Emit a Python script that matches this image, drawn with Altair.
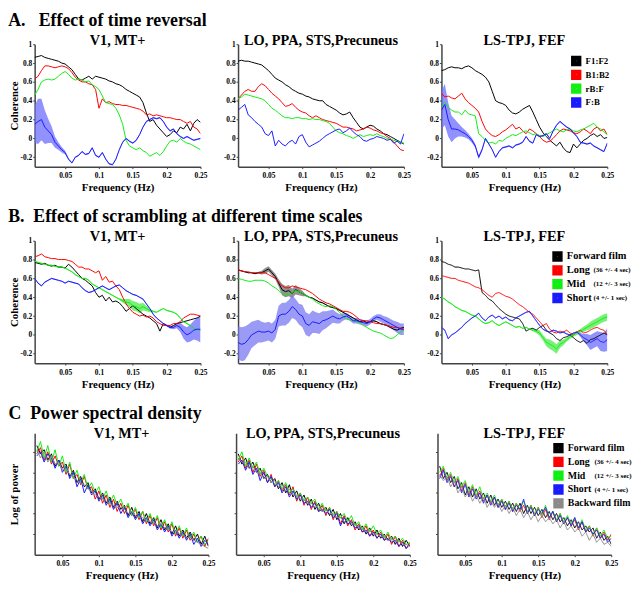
import altair as alt
import pandas as pd

SERIF = "Liberation Serif"

# ---------------- shared categories / text ----------------
row_titles = ["A.\u00a0\u00a0\u00a0Effect of time reversal",
              "B.\u00a0\u00a0Effect of scrambling at different time scales",
              "C\u00a0\u00a0Power spectral density"]
region_titles = ["V1, MT+", "LO, PPA, STS,Precuneus", "LS-TPJ, FEF"]
reversal_names = ["F1:F2", "B1:B2", "rB:F", "F:B"]
scramble_names = ["Forward film", "Long", "Mid", "Short"]
scramble_suffix = ["\u00a0", "(36 +/- 4 sec)", "(12 +/- 3 sec)", "(4 +/- 1 sec)"]
psd_names = ["Forward film", "Long", "Mid", "Short", "Backward film"]
psd_suffix = ["\u00a0", "(36 +/- 4 sec)", "(12 +/- 3 sec)", "(4 +/- 1 sec)", "\u00a0"]
line_colors = ["#000000", "#ff0000", "#11ee11", "#1a1aff"]
psd_colors = ["#000000", "#ff0000", "#11ee11", "#1a1aff", "#8a8a8a"]
x_ticks = [0.05, 0.1, 0.15, 0.2, 0.25]
coh_ticks = [-0.2, 0, 0.2, 0.4, 0.6, 0.8, 1]
psd_ticks = [1, 2, 3, 4, 5]

# ---------------- frequency grids ----------------
freq_ab = [0.005, 0.01, 0.015, 0.02, 0.025, 0.03, 0.035, 0.04, 0.045, 0.05,
           0.055, 0.06, 0.065, 0.07, 0.075, 0.08, 0.085, 0.09, 0.095, 0.1,
           0.105, 0.11, 0.115, 0.12, 0.125, 0.13, 0.135, 0.14, 0.145, 0.15,
           0.155, 0.16, 0.165, 0.17, 0.175, 0.18, 0.185, 0.19, 0.195, 0.2,
           0.205, 0.21, 0.215, 0.22, 0.225, 0.23, 0.235, 0.24, 0.245, 0.25]
freq_c = [0.015, 0.02, 0.025, 0.03, 0.035, 0.04, 0.045, 0.05,
          0.055, 0.06, 0.065, 0.07, 0.075, 0.08, 0.085, 0.09,
          0.095, 0.1, 0.105, 0.11, 0.115, 0.12, 0.125, 0.13,
          0.135, 0.14, 0.145, 0.15, 0.155, 0.16, 0.165, 0.17,
          0.175, 0.18, 0.185, 0.19, 0.195, 0.2, 0.205, 0.21,
          0.215, 0.22, 0.225, 0.23, 0.235, 0.24, 0.245, 0.25]

# ---------------- A. time reversal: coherence ----------------
a1_black = [0.86, 0.87, 0.88, 0.86, 0.85, 0.84, 0.83, 0.82, 0.80, 0.79,
            0.76, 0.73, 0.68, 0.63, 0.62, 0.64, 0.66, 0.63, 0.66, 0.65,
            0.64, 0.63, 0.61, 0.60, 0.58, 0.57, 0.55, 0.52, 0.50, 0.48,
            0.46, 0.44, 0.38, 0.27, 0.18, 0.20, 0.14, 0.10, 0.06, 0.02,
            0.04, 0.08, 0.06, 0.12, 0.10, 0.15, 0.08, 0.16, 0.20, 0.17]
a1_red = [0.63, 0.66, 0.72, 0.77, 0.77, 0.76, 0.75, 0.76, 0.77, 0.76,
          0.74, 0.70, 0.65, 0.62, 0.60, 0.60, 0.58, 0.57, 0.52, 0.32,
          0.42, 0.38, 0.39, 0.37, 0.36, 0.36, 0.35, 0.35, 0.34, 0.33,
          0.32, 0.31, 0.29, 0.25, 0.26, 0.24, 0.25, 0.24, 0.23, 0.22,
          0.22, 0.21, 0.20, 0.20, 0.18, 0.16, 0.18, 0.12, 0.10, 0.05]
a1_green = [0.46, 0.52, 0.60, 0.62, 0.63, 0.62, 0.63, 0.66, 0.69, 0.71,
            0.68, 0.64, 0.62, 0.63, 0.62, 0.60, 0.61, 0.57, 0.55, 0.52,
            0.45, 0.38, 0.37, 0.36, 0.32, 0.25, 0.15, -0.02, -0.08, -0.10,
            -0.12, -0.10, -0.13, -0.15, -0.19, -0.17, -0.15, -0.18, -0.14, -0.08,
            -0.03, -0.02, -0.04, 0.00, -0.03, -0.05, -0.06, -0.08, -0.10, -0.12]
a1_blue = [0.15, 0.18, 0.20, 0.12, 0.08, 0.04, -0.04, -0.08, -0.12, -0.15,
           -0.22, -0.26, -0.20, -0.18, -0.14, -0.17, -0.16, -0.10, -0.18, -0.20,
           -0.15, -0.22, -0.27, -0.28, -0.22, -0.12, -0.04, 0.00, -0.03, -0.05,
           -0.02, 0.04, 0.12, 0.18, 0.20, 0.22, 0.21, 0.22, 0.18, 0.12,
           0.08, 0.10, 0.05, 0.02, 0.00, 0.02, 0.00, -0.02, -0.01, 0.00]
a1_blue_sd = [0.20, 0.24, 0.22, 0.18, 0.13, 0.09, 0.06, 0.04, 0.03, 0.02,
              0.01, 0.008, 0.008, 0.008, 0.008, 0.008, 0.008, 0.008, 0.008, 0.008,
              0.008, 0.008, 0.008, 0.008, 0.008, 0.008, 0.008, 0.008, 0.008, 0.008,
              0.008, 0.008, 0.008, 0.008, 0.008, 0.008, 0.008, 0.008, 0.008, 0.008,
              0.008, 0.008, 0.008, 0.008, 0.008, 0.008, 0.008, 0.008, 0.008, 0.008]

a2_black = [0.82, 0.83, 0.82, 0.82, 0.81, 0.80, 0.79, 0.78, 0.75, 0.72,
            0.68, 0.64, 0.62, 0.60, 0.57, 0.55, 0.52, 0.50, 0.48, 0.47,
            0.45, 0.44, 0.42, 0.41, 0.40, 0.40, 0.36, 0.34, 0.32, 0.30,
            0.27, 0.25, 0.26, 0.28, 0.22, 0.17, 0.12, 0.10, 0.12, 0.14,
            0.13, 0.10, 0.08, 0.05, 0.04, 0.02, 0.00, -0.02, -0.04, -0.06]
a2_red = [0.42, 0.46, 0.50, 0.52, 0.50, 0.50, 0.55, 0.58, 0.56, 0.52,
          0.48, 0.45, 0.42, 0.38, 0.34, 0.35, 0.37, 0.33, 0.30, 0.28,
          0.27, 0.24, 0.22, 0.24, 0.22, 0.20, 0.19, 0.18, 0.17, 0.16,
          0.14, 0.12, 0.12, 0.11, 0.10, 0.08, 0.09, 0.10, 0.12, 0.11,
          0.09, 0.08, 0.06, 0.05, 0.02, 0.00, -0.04, -0.08, -0.12, -0.13]
a2_green = [0.42, 0.44, 0.47, 0.46, 0.45, 0.44, 0.43, 0.42, 0.40, 0.36,
            0.32, 0.30, 0.27, 0.24, 0.22, 0.22, 0.21, 0.22, 0.22, 0.21,
            0.21, 0.20, 0.21, 0.20, 0.20, 0.19, 0.18, 0.16, 0.12, 0.08,
            0.06, 0.05, 0.03, 0.02, 0.00, 0.02, 0.04, 0.02, 0.03, 0.04,
            0.03, 0.05, 0.03, 0.02, 0.00, -0.01, -0.02, -0.03, -0.04, -0.05]
a2_blue = [0.30, 0.33, 0.36, 0.25, 0.22, 0.18, 0.15, 0.12, 0.05, 0.03,
           0.08, -0.08, -0.02, -0.06, -0.08, -0.04, -0.02, -0.06, 0.02, 0.04,
           -0.04, -0.09, -0.07, -0.05, -0.03, 0.00, 0.03, 0.05, 0.07, 0.09,
           0.10, 0.06, 0.08, 0.11, 0.07, 0.04, 0.02, -0.02, -0.03, -0.01,
           0.00, 0.02, 0.01, 0.00, -0.02, -0.01, -0.05, -0.03, -0.06, 0.05]

a3_black = [0.72, 0.73, 0.75, 0.76, 0.75, 0.75, 0.74, 0.76, 0.77, 0.75,
            0.72, 0.70, 0.68, 0.65, 0.60, 0.50, 0.40, 0.38, 0.37, 0.35,
            0.30, 0.27, 0.26, 0.28, 0.31, 0.33, 0.35, 0.28, 0.20, 0.12,
            0.06, 0.02, -0.02, -0.05, -0.08, -0.04, -0.10, -0.14, -0.15, -0.06,
            -0.10, -0.06, -0.02, 0.00, 0.03, 0.05, 0.02, 0.04, 0.00, 0.01]
a3_red = [0.48, 0.44, 0.45, 0.43, 0.42, 0.45, 0.48, 0.42, 0.38, 0.35,
          0.32, 0.28, 0.18, 0.10, 0.06, 0.03, 0.02, 0.04, 0.07, 0.09,
          0.12, 0.15, 0.10, 0.12, 0.08, 0.05, 0.10, 0.08, 0.05, 0.02,
          -0.02, -0.04, -0.03, 0.00, 0.04, 0.08, 0.10, 0.09, 0.08, 0.06,
          0.05, 0.07, 0.10, 0.08, 0.05, 0.10, 0.12, 0.08, 0.10, 0.04]
a3_green = [0.33, 0.38, 0.33, 0.30, 0.28, 0.28, 0.25, 0.30, 0.26, 0.25,
            0.24, 0.05, 0.02, -0.02, -0.05, -0.04, -0.06, -0.02, -0.03, 0.00,
            0.02, 0.04, 0.03, 0.05, 0.07, 0.08, 0.06, 0.04, 0.05, 0.03,
            0.02, 0.04, 0.06, 0.08, 0.10, 0.08, 0.07, 0.09, 0.10, 0.08,
            0.07, 0.09, 0.10, 0.12, 0.14, 0.16, 0.12, 0.10, 0.07, 0.04]
a3_blue = [0.30, 0.36, 0.20, 0.10, 0.10, 0.09, 0.07, 0.05, 0.02, -0.02,
           -0.08, -0.20, -0.12, 0.00, -0.06, -0.12, -0.20, -0.14, -0.10, -0.09,
           -0.08, -0.10, -0.07, -0.06, -0.04, 0.02, -0.03, -0.05, 0.04, 0.02,
           0.03, 0.05, 0.00, 0.08, 0.14, 0.18, 0.15, 0.12, 0.10, 0.06,
           0.02, -0.04, -0.05, -0.06, -0.05, -0.08, -0.10, -0.12, -0.14, -0.05]
a3_blue_sd = [0.20, 0.22, 0.18, 0.14, 0.10, 0.07, 0.05, 0.04, 0.03, 0.025,
              0.02, 0.02, 0.015, 0.01, 0.008, 0.008, 0.008, 0.008, 0.008, 0.008,
              0.008, 0.008, 0.008, 0.008, 0.008, 0.008, 0.008, 0.008, 0.008, 0.008,
              0.008, 0.008, 0.008, 0.008, 0.008, 0.008, 0.008, 0.008, 0.008, 0.008,
              0.008, 0.008, 0.008, 0.008, 0.008, 0.008, 0.008, 0.008, 0.008, 0.008]

# ---------------- B. scrambling: coherence ----------------
b1_black = [0.77, 0.76, 0.75, 0.76, 0.74, 0.73, 0.74, 0.72, 0.72, 0.71,
            0.75, 0.72, 0.68, 0.64, 0.60, 0.58, 0.55, 0.52, 0.45, 0.40,
            0.42, 0.36, 0.40, 0.35, 0.36, 0.34, 0.30, 0.25, 0.28, 0.31,
            0.28, 0.25, 0.22, 0.20, 0.18, 0.15, 0.12, 0.04, 0.12, 0.10,
            0.08, 0.10, 0.12, 0.13, 0.14, 0.15, 0.16, 0.17, 0.18, 0.20]
b1_red = [0.83, 0.84, 0.86, 0.83, 0.82, 0.81, 0.81, 0.80, 0.80, 0.80,
          0.79, 0.78, 0.75, 0.72, 0.72, 0.70, 0.70, 0.68, 0.66, 0.68,
          0.58, 0.62, 0.56, 0.57, 0.52, 0.48, 0.40, 0.33, 0.28, 0.24,
          0.22, 0.20, 0.21, 0.19, 0.20, 0.18, 0.14, 0.12, 0.10, 0.10,
          0.10, 0.12, 0.12, 0.14, 0.18, 0.20, 0.22, 0.22, 0.21, 0.20]
b1_green = [0.78, 0.77, 0.76, 0.75, 0.74, 0.74, 0.73, 0.72, 0.72, 0.71,
            0.69, 0.67, 0.64, 0.62, 0.60, 0.60, 0.58, 0.54, 0.52, 0.50,
            0.48, 0.46, 0.44, 0.42, 0.40, 0.38, 0.36, 0.35, 0.34, 0.31,
            0.30, 0.28, 0.30, 0.28, 0.26, 0.25, 0.24, 0.26, 0.28, 0.26,
            0.25, 0.24, 0.22, 0.18, 0.14, 0.12, 0.10, 0.07, 0.06, 0.05]
b1_green_sd = [0.006, 0.006, 0.006, 0.006, 0.006, 0.006, 0.006, 0.006, 0.006, 0.006,
               0.006, 0.006, 0.006, 0.006, 0.006, 0.006, 0.006, 0.006, 0.006, 0.006,
               0.006, 0.006, 0.006, 0.006, 0.006, 0.01, 0.02, 0.03, 0.04, 0.05,
               0.05, 0.05, 0.04, 0.03, 0.02, 0.01, 0.006, 0.006, 0.006, 0.006,
               0.006, 0.006, 0.006, 0.006, 0.006, 0.006, 0.006, 0.006, 0.006, 0.006]
b1_blue = [0.60, 0.55, 0.52, 0.56, 0.58, 0.60, 0.59, 0.58, 0.57, 0.55,
           0.57, 0.56, 0.55, 0.54, 0.50, 0.47, 0.45, 0.46, 0.48, 0.50,
           0.52, 0.50, 0.48, 0.50, 0.52, 0.53, 0.50, 0.47, 0.45, 0.43,
           0.42, 0.40, 0.38, 0.33, 0.28, 0.22, 0.18, 0.15, 0.12, 0.10,
           0.08, 0.08, 0.10, 0.08, 0.03, 0.00, 0.02, 0.05, 0.06, 0.06]
b1_blue_sd = [0.006, 0.006, 0.006, 0.006, 0.006, 0.006, 0.006, 0.006, 0.006, 0.006,
              0.006, 0.006, 0.006, 0.006, 0.006, 0.006, 0.006, 0.006, 0.006, 0.006,
              0.006, 0.006, 0.006, 0.006, 0.006, 0.006, 0.006, 0.006, 0.006, 0.006,
              0.006, 0.006, 0.006, 0.006, 0.006, 0.006, 0.006, 0.006, 0.006, 0.01,
              0.015, 0.02, 0.03, 0.05, 0.07, 0.08, 0.09, 0.10, 0.12, 0.14]

b2_black = [0.69, 0.68, 0.67, 0.66, 0.66, 0.65, 0.66, 0.66, 0.68, 0.70,
            0.66, 0.62, 0.55, 0.48, 0.46, 0.47, 0.44, 0.48, 0.46, 0.44,
            0.42, 0.40, 0.39, 0.37, 0.35, 0.34, 0.32, 0.30, 0.29, 0.28,
            0.26, 0.24, 0.22, 0.20, 0.18, 0.16, 0.14, 0.15, 0.13, 0.14,
            0.15, 0.14, 0.12, 0.11, 0.10, 0.08, 0.06, 0.05, 0.07, 0.08]
b2_black_sd = [0.006, 0.006, 0.006, 0.006, 0.006, 0.006, 0.01, 0.02, 0.03, 0.03,
               0.03, 0.03, 0.04, 0.06, 0.06, 0.06, 0.05, 0.05, 0.04, 0.03,
               0.01, 0.006, 0.006, 0.006, 0.006, 0.006, 0.006, 0.006, 0.006, 0.006,
               0.006, 0.006, 0.006, 0.006, 0.006, 0.006, 0.006, 0.006, 0.006, 0.006,
               0.006, 0.006, 0.006, 0.006, 0.006, 0.006, 0.006, 0.006, 0.006, 0.006]
b2_red = [0.69, 0.68, 0.67, 0.67, 0.66, 0.66, 0.66, 0.66, 0.66, 0.64,
          0.62, 0.60, 0.56, 0.52, 0.50, 0.50, 0.52, 0.51, 0.50, 0.49,
          0.48, 0.46, 0.44, 0.41, 0.38, 0.36, 0.34, 0.33, 0.31, 0.29,
          0.27, 0.25, 0.25, 0.24, 0.22, 0.19, 0.16, 0.15, 0.15, 0.14,
          0.13, 0.12, 0.12, 0.11, 0.10, 0.09, 0.08, 0.08, 0.07, 0.06]
b2_green = [0.60, 0.59, 0.58, 0.57, 0.57, 0.58, 0.58, 0.58, 0.57, 0.55,
            0.52, 0.50, 0.47, 0.44, 0.42, 0.43, 0.45, 0.47, 0.46, 0.44,
            0.42, 0.40, 0.38, 0.35, 0.33, 0.31, 0.30, 0.31, 0.30, 0.27,
            0.24, 0.20, 0.17, 0.16, 0.15, 0.14, 0.13, 0.10, 0.08, 0.06,
            0.04, 0.03, 0.02, 0.00, -0.02, -0.04, -0.03, 0.00, 0.03, 0.05]
b2_blue = [-0.08, -0.10, -0.09, -0.05, 0.00, 0.02, 0.04, 0.03, 0.03, 0.04,
           0.02, 0.06, 0.20, 0.22, 0.22, 0.25, 0.30, 0.27, 0.22, 0.20,
           0.12, 0.10, 0.14, 0.13, 0.12, 0.15, 0.16, 0.18, 0.20, 0.18,
           0.17, 0.19, 0.20, 0.18, 0.15, 0.15, 0.14, 0.13, 0.12, 0.14,
           0.17, 0.19, 0.18, 0.16, 0.14, 0.12, 0.10, 0.08, 0.06, 0.06]
b2_blue_sd = [0.17, 0.18, 0.18, 0.16, 0.14, 0.13, 0.12, 0.11, 0.10, 0.10,
              0.10, 0.10, 0.11, 0.12, 0.12, 0.12, 0.12, 0.11, 0.11, 0.12,
              0.12, 0.12, 0.12, 0.11, 0.11, 0.10, 0.09, 0.08, 0.07, 0.06,
              0.05, 0.04, 0.035, 0.03, 0.03, 0.03, 0.03, 0.03, 0.03, 0.03,
              0.03, 0.03, 0.04, 0.04, 0.05, 0.05, 0.05, 0.06, 0.06, 0.06]

b3_black = [0.78, 0.77, 0.75, 0.74, 0.72, 0.72, 0.71, 0.70, 0.70, 0.69,
            0.68, 0.69, 0.45, 0.42, 0.38, 0.36, 0.32, 0.28, 0.25, 0.22,
            0.20, 0.19, 0.18, 0.17, 0.12, 0.04, 0.06, 0.07, 0.05, 0.08,
            0.10, 0.05, 0.02, 0.00, -0.04, -0.06, -0.03, -0.02, 0.00, -0.03,
            -0.06, -0.08, -0.06, -0.09, -0.05, -0.04, -0.02, 0.00, 0.02, 0.00]
b3_red = [0.63, 0.62, 0.61, 0.60, 0.60, 0.58, 0.57, 0.56, 0.55, 0.53,
          0.51, 0.50, 0.48, 0.45, 0.42, 0.40, 0.44, 0.45, 0.43, 0.41,
          0.40, 0.38, 0.35, 0.32, 0.30, 0.27, 0.24, 0.22, 0.18, 0.14,
          0.10, 0.12, 0.06, 0.03, 0.02, 0.04, 0.03, 0.05, 0.02, 0.00,
          0.03, 0.05, 0.02, 0.03, 0.05, 0.07, 0.08, 0.06, 0.05, 0.00]
b3_green = [0.40, 0.38, 0.35, 0.33, 0.30, 0.28, 0.26, 0.25, 0.23, 0.21,
            0.20, 0.17, 0.14, 0.12, 0.13, 0.15, 0.12, 0.10, 0.12, 0.14,
            0.12, 0.10, 0.08, 0.09, 0.07, 0.08, 0.06, 0.05, 0.04, 0.02,
            -0.03, -0.08, -0.10, -0.12, -0.15, -0.10, -0.08, -0.05, -0.02, 0.00,
            0.02, 0.04, 0.06, 0.08, 0.10, 0.12, 0.14, 0.16, 0.18, 0.19]
b3_green_sd = [0.006, 0.006, 0.006, 0.006, 0.006, 0.006, 0.006, 0.006, 0.006, 0.006,
               0.006, 0.006, 0.006, 0.006, 0.006, 0.006, 0.006, 0.006, 0.006, 0.006,
               0.006, 0.006, 0.006, 0.006, 0.006, 0.006, 0.006, 0.01, 0.02, 0.03,
               0.03, 0.04, 0.05, 0.05, 0.05, 0.04, 0.03, 0.02, 0.02, 0.02,
               0.02, 0.02, 0.03, 0.03, 0.04, 0.04, 0.04, 0.04, 0.04, 0.04]
b3_blue = [0.08, 0.05, -0.04, 0.00, 0.02, 0.05, 0.08, 0.12, 0.15, 0.18,
           0.20, 0.23, 0.18, 0.15, 0.19, 0.21, 0.18, 0.20, 0.17, 0.19,
           0.16, 0.15, 0.18, 0.20, 0.22, 0.24, 0.25, 0.20, 0.15, 0.10,
           0.06, 0.04, 0.03, 0.05, 0.04, 0.02, 0.03, 0.01, 0.00, 0.02,
           0.03, 0.00, -0.03, -0.05, -0.08, -0.06, -0.04, -0.07, -0.08, -0.05]
b3_blue_sd = [0.006, 0.006, 0.006, 0.006, 0.006, 0.006, 0.006, 0.006, 0.006, 0.006,
              0.006, 0.006, 0.006, 0.006, 0.006, 0.006, 0.006, 0.006, 0.006, 0.006,
              0.006, 0.006, 0.006, 0.006, 0.006, 0.006, 0.006, 0.006, 0.006, 0.006,
              0.006, 0.006, 0.006, 0.006, 0.006, 0.006, 0.006, 0.006, 0.006, 0.006,
              0.01, 0.02, 0.04, 0.06, 0.08, 0.08, 0.08, 0.10, 0.10, 0.12]

# ---------------- C. power spectral density (log power, arbitrary units) ----------------
c1_black = [5.3, 4.9, 5.1, 4.6, 4.9, 4.3, 4.6, 4.2,
            4.4, 3.8, 4.1, 3.5, 3.8, 3.3, 3.5, 3.0,
            3.2, 2.7, 3.0, 2.5, 2.8, 2.3, 2.6, 2.2,
            2.4, 1.9, 2.3, 1.8, 2.1, 1.6, 2.0, 1.5,
            1.8, 1.3, 1.7, 1.2, 1.5, 1.0, 1.4, 0.9,
            1.2, 0.8, 1.1, 0.7, 1.0, 0.5, 0.9, 0.4]
c1_red = [4.9, 5.2, 4.6, 5.0, 4.4, 4.8, 4.3, 4.5,
          3.9, 4.4, 3.7, 3.9, 3.4, 3.8, 3.2, 3.3,
          2.7, 3.1, 2.5, 2.9, 2.3, 2.7, 2.1, 2.5,
          2.0, 2.4, 1.9, 2.2, 1.7, 2.1, 1.5, 1.9,
          1.4, 1.8, 1.2, 1.6, 1.1, 1.5, 0.9, 1.3,
          0.8, 1.2, 0.7, 1.0, 0.6, 0.9, 0.4, 0.8]
c1_green = [5.0, 5.5, 4.7, 5.3, 4.5, 5.1, 4.3, 4.8,
            4.0, 4.5, 3.7, 4.1, 3.5, 3.9, 3.2, 3.5,
            3.0, 3.3, 2.7, 3.1, 2.5, 2.9, 2.4, 2.7,
            2.2, 2.5, 1.9, 2.3, 1.8, 2.1, 1.6, 2.0,
            1.5, 1.9, 1.3, 1.7, 1.2, 1.6, 1.0, 1.4,
            0.9, 1.3, 0.8, 1.1, 0.6, 0.9, 0.5, 0.7]
c1_blue = [4.8, 5.0, 4.5, 4.9, 4.7, 4.2, 4.6, 4.0,
           4.3, 3.7, 4.0, 3.3, 3.7, 3.0, 3.4, 2.9,
           3.1, 2.6, 2.9, 2.4, 2.7, 2.2, 2.5, 2.0,
           2.3, 1.8, 2.1, 1.7, 2.0, 1.5, 1.8, 1.4,
           1.7, 1.2, 1.5, 1.1, 1.4, 0.9, 1.2, 0.8,
           1.1, 0.7, 1.0, 0.5, 0.8, 0.4, 0.7, 0.5]
c1_gray = [5.1, 4.7, 5.0, 4.5, 4.8, 4.4, 4.5, 4.1,
           4.2, 3.9, 3.8, 3.6, 3.5, 3.4, 3.2, 3.1,
           2.9, 2.8, 2.7, 2.6, 2.5, 2.4, 2.3, 2.3,
           2.2, 2.0, 2.1, 1.9, 1.8, 1.8, 1.7, 1.6,
           1.6, 1.4, 1.5, 1.3, 1.3, 1.1, 1.2, 1.0,
           1.0, 0.8, 0.9, 0.7, 0.6, 0.5, 0.4, 0.3]

c2_black = [4.9, 4.4, 4.7, 4.2, 4.5, 4.0, 4.2, 3.7,
            3.9, 3.5, 3.7, 3.2, 3.5, 3.0, 3.4, 2.8,
            3.1, 2.6, 2.9, 2.4, 2.7, 2.2, 2.5, 2.1,
            2.3, 1.9, 2.2, 1.7, 2.0, 1.5, 1.8, 1.4,
            1.6, 1.2, 1.4, 1.0, 1.3, 0.9, 1.2, 0.8,
            1.0, 0.7, 0.9, 0.5, 0.8, 0.4, 0.7, 0.4]
c2_red = [4.5, 4.8, 4.2, 4.6, 4.0, 4.4, 3.8, 4.1,
          3.5, 3.9, 3.3, 3.6, 3.1, 3.4, 2.9, 3.3,
          2.6, 3.0, 2.4, 2.8, 2.2, 2.6, 2.1, 2.4,
          1.9, 2.3, 1.7, 2.1, 1.5, 1.9, 1.4, 1.7,
          1.2, 1.5, 1.1, 1.4, 0.9, 1.2, 0.8, 1.1,
          0.7, 1.0, 0.5, 0.9, 0.4, 0.7, 0.3, 0.6]
c2_green = [4.6, 5.0, 4.3, 4.7, 4.2, 4.5, 3.9, 4.2,
            3.8, 3.7, 3.4, 3.6, 3.2, 3.5, 3.0, 3.2,
            2.8, 3.0, 2.6, 2.8, 2.5, 2.7, 2.2, 2.5,
            2.1, 2.3, 1.9, 2.1, 1.8, 2.0, 1.6, 1.9,
            1.4, 1.6, 1.2, 1.5, 1.1, 1.4, 1.0, 1.2,
            0.8, 1.1, 0.7, 0.9, 0.6, 0.8, 0.5, 0.6]
c2_blue = [4.4, 4.6, 4.1, 4.5, 3.9, 4.2, 3.6, 4.0,
           3.5, 3.8, 3.3, 3.5, 3.0, 3.3, 2.8, 3.1,
           2.7, 2.9, 2.5, 2.6, 2.3, 2.5, 2.1, 2.2,
           2.0, 2.2, 1.8, 2.0, 1.4, 1.8, 1.5, 1.6,
           1.3, 1.4, 1.1, 1.2, 0.9, 1.1, 0.8, 1.0,
           0.7, 0.8, 0.6, 0.7, 0.4, 0.6, 0.3, 0.5]
c2_gray = [4.7, 4.5, 4.5, 4.2, 4.3, 4.0, 4.0, 3.7,
           3.8, 3.5, 3.6, 3.3, 3.4, 3.1, 3.2, 2.9,
           2.9, 2.7, 2.7, 2.5, 2.5, 2.3, 2.4, 2.1,
           2.2, 2.0, 2.0, 1.8, 1.8, 1.6, 1.7, 1.5,
           1.5, 1.3, 1.3, 1.1, 1.2, 1.0, 1.0, 0.9,
           0.9, 0.7, 0.8, 0.6, 0.7, 0.5, 0.5, 0.4]

c3_black = [4.3, 3.7, 4.0, 3.5, 3.8, 3.2, 3.5, 2.9,
            3.3, 2.8, 3.2, 2.7, 3.0, 2.5, 2.9, 2.4,
            2.7, 2.3, 2.6, 2.2, 2.5, 2.1, 2.5, 2.0,
            2.4, 2.0, 2.3, 1.9, 2.2, 1.8, 2.1, 1.7,
            2.0, 1.6, 1.8, 1.4, 1.7, 1.3, 1.6, 1.2,
            1.4, 1.1, 1.3, 0.8, 1.1, 0.7, 0.9, 0.5]
c3_red = [3.8, 4.2, 3.6, 3.9, 3.3, 3.7, 3.1, 3.5,
          2.9, 3.3, 2.8, 3.1, 2.6, 2.9, 2.5, 2.8,
          2.3, 2.7, 2.2, 2.6, 2.1, 2.5, 2.1, 2.4,
          2.0, 2.4, 1.9, 2.3, 1.8, 2.2, 1.7, 2.1,
          1.6, 2.0, 1.5, 1.8, 1.4, 1.7, 1.2, 1.6,
          1.1, 1.4, 0.9, 1.3, 0.8, 1.1, 0.7, 1.0]
c3_green = [4.0, 4.3, 3.7, 4.0, 3.5, 3.8, 3.3, 3.6,
            3.0, 3.4, 2.9, 3.3, 2.7, 3.0, 2.6, 2.9,
            2.4, 2.7, 2.3, 2.6, 2.2, 2.5, 2.2, 2.6,
            2.1, 2.4, 2.0, 2.3, 1.9, 2.4, 1.8, 2.1,
            1.7, 2.0, 1.6, 1.9, 1.5, 1.8, 1.3, 1.7,
            1.2, 1.4, 1.0, 1.3, 0.9, 1.2, 0.8, 0.9]
c3_blue = [3.7, 4.1, 3.5, 3.8, 3.3, 3.6, 3.0, 3.4,
           2.8, 3.2, 2.7, 3.0, 2.5, 2.9, 2.4, 2.8,
           2.3, 2.6, 2.2, 2.5, 2.1, 2.4, 2.2, 2.7,
           2.0, 2.3, 1.9, 2.2, 2.0, 2.3, 1.8, 2.1,
           1.6, 1.9, 1.5, 1.8, 1.4, 1.8, 1.3, 1.6,
           1.1, 1.3, 1.0, 1.2, 0.8, 1.0, 0.6, 0.8]
c3_gray = [3.9, 3.6, 3.8, 3.3, 3.6, 3.0, 3.3, 2.8,
           3.1, 2.6, 2.9, 2.5, 2.8, 2.3, 2.6, 2.3,
           2.5, 2.1, 2.4, 2.0, 2.3, 1.9, 2.2, 1.8,
           2.1, 1.7, 2.0, 1.6, 1.9, 1.6, 1.8, 1.5,
           1.7, 1.3, 1.6, 1.2, 1.4, 1.1, 1.3, 0.9,
           1.1, 0.7, 1.0, 0.6, 0.8, 0.5, 0.6, 0.4]

# ---------------- chart helpers ----------------
LBL = "datum.value < 0 ? '-' + format(-datum.value, '~g') : format(datum.value, '~g')"
W_AB, H_AB = 168, 124
W_C, H_C = 176, 123


def sq_legend(x, y, fs, rowpad, hidden=False):
    kw = dict(orient="none", legendX=x, legendY=y, title=None, symbolType="square",
              symbolSize=30, symbolStrokeWidth=5, labelFont=SERIF, labelFontWeight="bold",
              labelFontSize=fs, labelColor="black", labelOffset=4, rowPadding=rowpad,
              padding=0, labelLimit=300, clipHeight=12)
    if hidden:
        kw["symbolOpacity"] = 0
    return alt.Legend(**kw)


def x_enc(domain):
    return alt.X("f:Q", scale=alt.Scale(domain=domain, nice=False, zero=False),
                 axis=alt.Axis(values=x_ticks, labelExpr=LBL, title="Frequency (Hz)",
                               labelFlush=False, labelOverlap=False, labelPadding=3, titlePadding=3))


def panel_title(t):
    return alt.TitleParams(t, fontSize=14.5, offset=-8, font=SERIF, fontWeight="bold", color="black")


def make_panel(title, freqs, names, colors, series, bands, xdomain, ydomain, yaxis,
               width, height, legend=None, suffixes=None, suffix_legend=None):
    rows = []
    sfx = suffixes if suffixes is not None else names
    for name, suf, vals in zip(names, sfx, series):
        for f, v in zip(freqs, vals):
            rows.append({"f": f, "v": v, "s": name, "s2": suf})
    df = pd.DataFrame(rows)
    yscale = alt.Scale(domain=ydomain, nice=False, zero=False)
    layers = []
    for idx, sd, col, op in bands:
        vals = series[idx]
        bdf = pd.DataFrame({"f": freqs,
                            "lo": [v - s for v, s in zip(vals, sd)],
                            "hi": [v + s for v, s in zip(vals, sd)]})
        layers.append(alt.Chart(bdf).mark_area(color=col, opacity=op, clip=True).encode(
            x=x_enc(xdomain), y=alt.Y("lo:Q", scale=yscale, axis=yaxis), y2="hi:Q"))
    enc = dict(x=x_enc(xdomain), y=alt.Y("v:Q", scale=yscale, axis=yaxis),
               color=alt.Color("s:N", scale=alt.Scale(domain=names, range=colors), legend=legend))
    if suffix_legend is not None:
        sdom = []
        for s in suffixes:
            if s not in sdom:
                sdom.append(s)
        enc["strokeDash"] = alt.StrokeDash("s2:N", scale=alt.Scale(domain=sdom, range=[[1, 0]] * len(sdom)),
                                           legend=suffix_legend)
    line = alt.Chart(df).mark_line(strokeWidth=1, clip=True).encode(**enc)
    return alt.layer(*layers, line).properties(width=width, height=height, title=panel_title(title))


def coh_axis(show_title):
    if show_title:
        return alt.Axis(values=coh_ticks, labelExpr=LBL, title="Coherence", titlePadding=1)
    return alt.Axis(values=coh_ticks, labelExpr=LBL, title=None)


def psd_axis(show_title):
    if show_title:
        return alt.Axis(values=psd_ticks, labels=False, title="Log of power", titlePadding=13)
    return alt.Axis(values=psd_ticks, labels=False, title=None)


XD_AB = [0.005, 0.25]
YD_AB = [-0.3, 1]
XD_C = [0.012, 0.25]
YD_C = [0, 5.9]

BLUE_BAND = "#6e6eff"
BLUE_BAND2 = "#7a7af2"
GREEN_BAND = "#55ee55"
GRAY_BAND = "#777777"

# Row A
pA1 = make_panel(region_titles[0], freq_ab, reversal_names, line_colors,
                 [a1_black, a1_red, a1_green, a1_blue],
                 [(3, a1_blue_sd, BLUE_BAND, 0.75)], XD_AB, YD_AB, coh_axis(True), W_AB, H_AB)
pA2 = make_panel(region_titles[1], freq_ab, reversal_names, line_colors,
                 [a2_black, a2_red, a2_green, a2_blue], [], XD_AB, YD_AB, coh_axis(False), W_AB, H_AB)
pA3 = make_panel(region_titles[2], freq_ab, reversal_names, line_colors,
                 [a3_black, a3_red, a3_green, a3_blue],
                 [(3, a3_blue_sd, BLUE_BAND, 0.75)], XD_AB, YD_AB, coh_axis(False), W_AB, H_AB,
                 legend=sq_legend(131, 11, 9, 2))

# Row B
pB1 = make_panel(region_titles[0], freq_ab, scramble_names, line_colors,
                 [b1_black, b1_red, b1_green, b1_blue],
                 [(2, b1_green_sd, GREEN_BAND, 0.8), (3, b1_blue_sd, BLUE_BAND, 0.75)],
                 XD_AB, YD_AB, coh_axis(True), W_AB, H_AB)
pB2 = make_panel(region_titles[1], freq_ab, scramble_names, line_colors,
                 [b2_black, b2_red, b2_green, b2_blue],
                 [(0, b2_black_sd, GRAY_BAND, 0.8), (3, b2_blue_sd, BLUE_BAND2, 0.75)],
                 XD_AB, YD_AB, coh_axis(False), W_AB, H_AB)
pB3 = make_panel(region_titles[2], freq_ab, scramble_names, line_colors,
                 [b3_black, b3_red, b3_green, b3_blue],
                 [(2, b3_green_sd, GREEN_BAND, 0.8), (3, b3_blue_sd, BLUE_BAND, 0.75)],
                 XD_AB, YD_AB, coh_axis(False), W_AB, H_AB,
                 legend=sq_legend(112, 10, 10.5, 2),
                 suffixes=scramble_suffix,
                 suffix_legend=sq_legend(139, 10, 7, 2, hidden=True))

# Row C
pC1 = make_panel(region_titles[0], freq_c, psd_names, psd_colors,
                 [c1_black, c1_red, c1_green, c1_blue, c1_gray], [], XD_C, YD_C, psd_axis(True), W_C, H_C)
pC2 = make_panel(region_titles[1], freq_c, psd_names, psd_colors,
                 [c2_black, c2_red, c2_green, c2_blue, c2_gray], [], XD_C, YD_C, psd_axis(False), W_C, H_C)
pC3 = make_panel(region_titles[2], freq_c, psd_names, psd_colors,
                 [c3_black, c3_red, c3_green, c3_blue, c3_gray], [], XD_C, YD_C, psd_axis(False), W_C, H_C,
                 legend=sq_legend(117, 9, 10, 2),
                 suffixes=psd_suffix,
                 suffix_legend=sq_legend(144, 9, 7, 2, hidden=True))


def make_row(panels, title, spacing):
    return alt.hconcat(*panels, spacing=spacing, bounds="flush",
                       title=alt.TitleParams(title, anchor="start", fontSize=18, offset=3,
                                             font=SERIF, fontWeight="bold", color="black")
                       ).resolve_scale(color="independent", strokeDash="independent")


rowA = make_row([pA1, pA2, pA3], row_titles[0], 38)
rowB = make_row([pB1, pB2, pB3], row_titles[1], 38)
rowC = make_row([pC1, pC2, pC3], row_titles[2], 28)

chart = alt.vconcat(rowA, rowB, rowC, spacing=15).resolve_scale(
    color="independent", strokeDash="independent"
).properties(
    padding={"left": 0, "top": 0, "right": 0, "bottom": 0}
).configure_view(
    strokeWidth=0
).configure_axis(
    labelFont=SERIF, labelFontWeight="bold", labelFontSize=7.5, labelColor="black", labelPadding=1,
    titleFont=SERIF, titleFontWeight="bold", titleFontSize=11, titleColor="black", titlePadding=2,
    domainColor="#444444", domainWidth=1.5, tickColor="#444444", tickSize=2, grid=False
).configure_title(
    font=SERIF, fontWeight="bold", color="black"
)

chart.save("out.html", embed_options={"renderer": "svg", "actions": False})
